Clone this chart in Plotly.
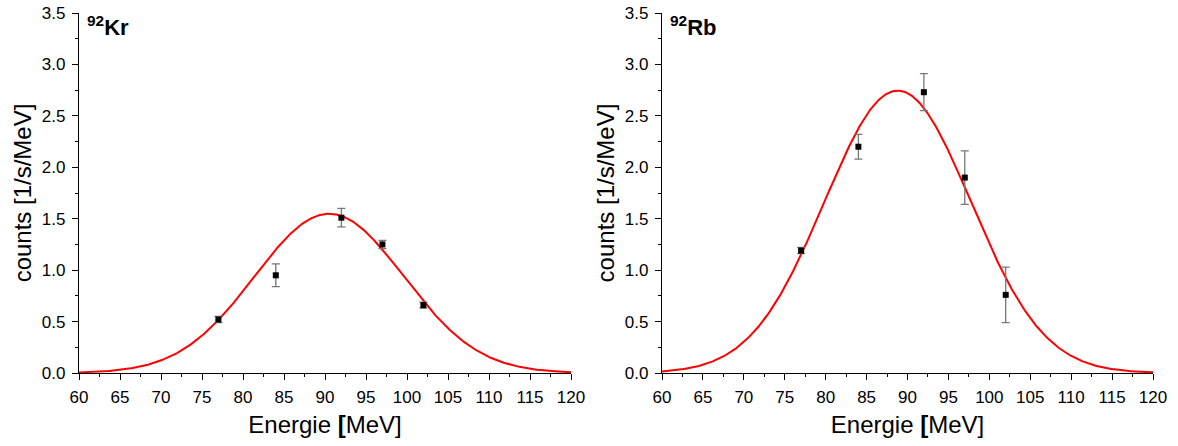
import numpy as np
import plotly.graph_objects as go
from plotly.subplots import make_subplots

# Measured points (energy in MeV, rate in 1/s/MeV, symmetric errors)
energy = [77, 84, 92, 97, 102]

kr_counts = [0.52, 0.95, 1.51, 1.25, 0.66]
kr_err = [0.03, 0.11, 0.09, 0.04, 0.03]

rb_counts = [1.19, 2.20, 2.73, 1.90, 0.76]
rb_err = [0.03, 0.12, 0.18, 0.26, 0.27]

# Gaussian fit parameters: amplitude, centre [MeV], sigma [MeV]
kr_fit = (1.548, 90.5, 9.1)
rb_fit = (2.745, 88.8, 8.95)

panel_titles = ["<b><sup>92</sup>Kr</b>", "<b><sup>92</sup>Rb</b>"]

e_fit = np.linspace(60, 120, 601)


def gauss(x, amp, mu, sig):
    return amp * np.exp(-((x - mu) ** 2) / (2 * sig ** 2))


fig = make_subplots(rows=1, cols=2)

FONT = "Liberation Sans, Arial, sans-serif"

for col, (counts, err, fit) in enumerate(
        [(kr_counts, kr_err, kr_fit), (rb_counts, rb_err, rb_fit)], start=1):
    fig.add_trace(go.Scatter(
        x=e_fit, y=gauss(e_fit, *fit), mode="lines",
        line=dict(color="#ff0000", width=2), showlegend=False),
        row=1, col=col)
    fig.add_trace(go.Scatter(
        x=energy, y=counts, mode="markers",
        marker=dict(symbol="square", size=6, color="black"),
        error_y=dict(type="data", array=err, visible=True,
                     color="#777777", thickness=1.3, width=4),
        showlegend=False), row=1, col=col)

xdomains = [[79 / 1178, 571 / 1178], [662 / 1178, 1153 / 1178]]
ydomain = [(446 - 373) / 446, (446 - 13) / 446]

for i, dom in enumerate(xdomains, start=1):
    xa = "xaxis" if i == 1 else f"xaxis{i}"
    ya = "yaxis" if i == 1 else f"yaxis{i}"
    fig.layout[xa].update(
        domain=dom, range=[60, 120], dtick=5, tick0=60, automargin=False,
        showline=True, linecolor="black", linewidth=1.3,
        ticks="outside", ticklen=6, tickwidth=1.3, tickcolor="black",
        minor=dict(ticks="outside", ticklen=3, dtick=2.5, tickcolor="black",
                   tickwidth=1.2),
        showgrid=False, zeroline=False, ticklabelstandoff=2,
        tickfont=dict(family=FONT, size=17, color="black"),
        title=dict(text="Energie <b>[</b>MeV]",
                   font=dict(family=FONT, size=24, color="black"),
                   standoff=10),
    )
    fig.layout[ya].update(
        domain=ydomain, range=[0, 3.5], dtick=0.5, tick0=0, automargin=False,
        tickformat=".1f",
        showline=True, linecolor="black", linewidth=1.3,
        ticks="outside", ticklen=6, tickwidth=1.3, tickcolor="black",
        minor=dict(ticks="outside", ticklen=3, dtick=0.25, tickcolor="black",
                   tickwidth=1.2),
        showgrid=False, zeroline=False, ticklabelstandoff=3,
        tickfont=dict(family=FONT, size=17, color="black"),
        title=dict(text="counts [1/s/MeV]",
                   font=dict(family=FONT, size=24, color="black"),
                   standoff=3),
    )
    fig.add_annotation(
        text=panel_titles[i - 1], xref=f"x{i} domain" if i > 1 else "x domain",
        yref="y domain" if i == 1 else f"y{i} domain",
        x=0, y=1, xanchor="left", yanchor="top", xshift=6, yshift=3,
        showarrow=False,
        font=dict(family=FONT, size=22, color="black"))

fig.update_layout(
    width=1178, height=446,
    margin=dict(l=0, r=0, t=0, b=0),
    paper_bgcolor="white", plot_bgcolor="white",
    font=dict(family=FONT, color="black"),
)

fig.write_html("out.html")
